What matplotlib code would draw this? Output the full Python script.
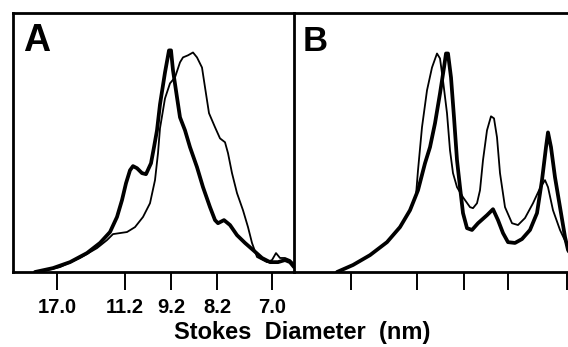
import matplotlib
matplotlib.use("Agg")
import matplotlib.pyplot as plt

# Panel A: elution position (mm) and relative absorbance (% of full scale)
a_thick_x = [2.2, 4.0, 5.7, 7.4, 8.7, 9.7, 10.4, 10.9, 11.3, 11.7, 12.0, 12.4, 12.9, 13.3, 13.8, 14.1, 14.4,
             14.7, 15.2, 15.6, 15.8, 16.0, 16.4, 16.7, 17.2, 17.7, 18.4, 19.0, 19.7, 20.2, 20.5, 21.1,
             21.7, 22.4, 23.2, 24.0, 24.9, 25.7, 26.5, 27.2, 27.7, 28.1]
a_thick_y = [0.0, 1.5, 3.8, 7.3, 11.2, 15.4, 21.2, 27.7, 34.2, 39.2, 40.8, 40.0, 38.1, 37.7, 41.9, 48.1, 54.6,
             64.6, 76.9, 85.4, 85.4, 77.7, 67.3, 59.6, 54.6, 48.1, 40.4, 32.7, 25.0, 20.0, 18.8, 20.0,
             18.1, 14.2, 11.2, 8.5, 5.4, 3.8, 3.8, 4.6, 3.8, 1.9]
a_thin_x = [2.7, 4.7, 6.7, 8.4, 9.4, 10.0, 10.7, 11.4, 12.2, 13.0, 13.7, 14.2, 14.5, 14.7, 15.2, 15.7, 16.2,
            16.7, 17.0, 17.5, 18.0, 18.4, 18.9, 19.2, 19.6, 20.2, 20.7, 21.2, 21.5, 21.9, 22.4, 23.0,
            23.5, 23.9, 24.4, 25.4, 25.9, 26.3, 26.7, 27.2, 27.7, 28.1]
a_thin_y = [0.0, 1.9, 5.4, 9.2, 12.3, 14.6, 15.0, 15.4, 17.3, 21.2, 26.5, 35.4, 45.8, 55.4, 66.9, 72.7, 75.0,
            80.8, 82.7, 83.5, 84.6, 82.7, 78.8, 71.2, 61.2, 55.8, 51.5, 50.0, 45.8, 38.1, 30.4, 23.8,
            17.3, 11.2, 5.8, 3.8, 4.6, 7.3, 5.4, 5.4, 4.6, 3.1]

# Panel B
b_thick_x = [4.3, 5.9, 7.6, 9.3, 10.6, 11.6, 12.4, 13.1, 13.6, 14.1, 14.6, 15.0, 15.2, 15.4, 15.7, 16.0,
             16.3, 16.6, 16.9, 17.3, 17.8, 18.4, 19.3, 19.9, 20.4, 20.9, 21.4, 22.1, 22.8, 23.6, 24.3,
             24.8, 25.2, 25.4, 25.7, 26.1, 26.6, 27.1, 27.4, 28.1]
b_thick_y = [0.0, 2.7, 6.5, 11.5, 17.3, 23.8, 31.5, 41.9, 48.1, 57.3, 68.8, 78.8, 84.2, 84.2, 75.0, 59.6,
             43.1, 32.7, 22.7, 16.9, 16.2, 18.8, 21.9, 24.2, 20.0, 15.0, 11.5, 11.2, 12.7, 16.2, 22.7,
             35.4, 48.1, 53.8, 48.1, 36.5, 25.0, 13.5, 8.5, 3.8]
b_thin_x = [4.3, 5.9, 7.6, 9.3, 10.6, 11.6, 12.2, 12.4, 12.8, 13.3, 13.8, 14.3, 14.6, 14.9, 15.3, 15.6,
            15.9, 16.3, 16.9, 17.6, 17.9, 18.3, 18.6, 18.9, 19.3, 19.7, 20.0, 20.3, 20.6, 21.1, 21.8,
            22.4, 23.1, 23.9, 24.6, 25.1, 25.4, 25.9, 26.6, 27.4, 28.1]
b_thin_y = [0.0, 2.7, 6.5, 11.5, 17.3, 23.8, 29.6, 39.2, 55.8, 70.0, 78.8, 84.2, 82.3, 73.8, 61.2, 46.9,
            38.1, 32.7, 28.8, 25.0, 24.6, 26.5, 31.5, 43.1, 54.6, 60.0, 59.2, 51.9, 38.1, 25.0, 18.8,
            18.1, 20.8, 26.5, 32.3, 35.4, 32.7, 23.8, 16.2, 9.6, 5.4]

# Stokes diameter calibration ticks
a_tick_pos = [4.4, 11.2, 15.8, 20.4, 25.9]
a_tick_labels = ["17.0", "11.2", "9.2", "8.2", "7.0"]
b_tick_pos = [5.7, 12.3, 17.0, 21.4, 27.3]

panel_labels = ["A", "B"]
x_label = "Stokes  Diameter  (nm)"

W, H = 568, 347
fig = plt.figure(figsize=(W / 100, H / 100), dpi=100)
fig.patch.set_facecolor("white")

bottom = (H - 272) / H
height = (272 - 12.5) / H
axA = fig.add_axes([13 / W, bottom, (294 - 13) / W, height])
axB = fig.add_axes([294 / W, bottom, (W - 294 + 2) / W, height])
axB.patch.set_alpha(0)

thick_lw = 2.7
thin_lw = 1.3
spine_lw = 2.0

for ax, tx, ty, nx, ny, xmax in [
    (axA, a_thick_x, a_thick_y, a_thin_x, a_thin_y, 28.1),
    (axB, b_thick_x, b_thick_y, b_thin_x, b_thin_y, 27.6),
]:
    ax.plot(nx, ny, color="black", lw=thin_lw, solid_joinstyle="round", solid_capstyle="round")
    ax.plot(tx, ty, color="black", lw=thick_lw, solid_joinstyle="round", solid_capstyle="round")
    ax.set_xlim(0, xmax)
    ax.set_ylim(0, 100)
    ax.set_yticks([])
    for s in ax.spines.values():
        s.set_linewidth(spine_lw)
    ax.tick_params(axis="x", direction="out", length=13, width=1.4, pad=5.5)

axB.spines["right"].set_visible(False)
axB.spines["left"].set_visible(False)

axA.set_xticks(a_tick_pos)
axA.set_xticklabels(a_tick_labels, fontfamily="Liberation Sans", fontweight="bold", fontsize=14.5)
axB.set_xticks(b_tick_pos)
axB.set_xticklabels([""] * len(b_tick_pos))

fig.text(23 / W, (H - 51) / H, panel_labels[0], fontfamily="Liberation Sans", fontweight="bold",
         fontsize=27, va="baseline", ha="left")
fig.text(303 / W, (H - 51) / H, panel_labels[1], fontfamily="Liberation Sans", fontweight="bold",
         fontsize=25, va="baseline", ha="left")

fig.text(302 / W, (H - 339) / H, x_label, fontfamily="Liberation Sans", fontweight="bold",
         fontsize=17, va="baseline", ha="center")

fig.savefig("out.png", dpi=100, facecolor="white")
